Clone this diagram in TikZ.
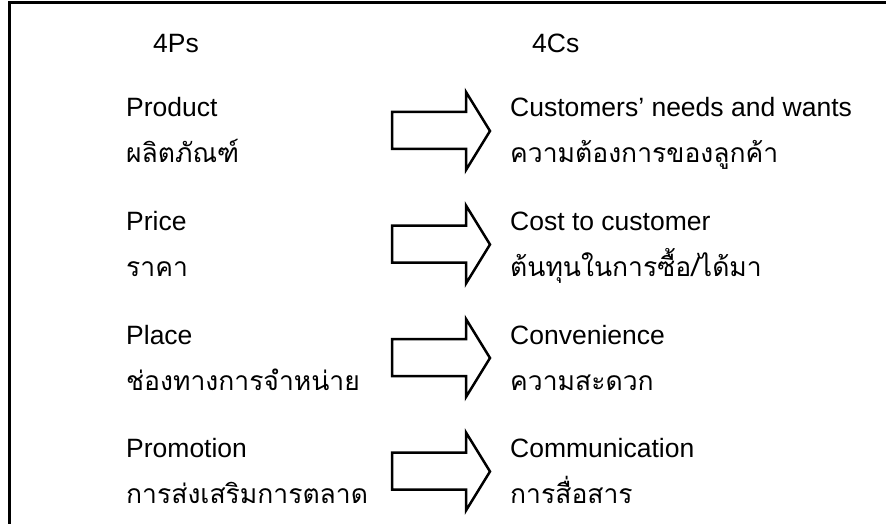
\documentclass[tikz,border=0pt]{standalone}
\usepackage{fontspec}
\setmainfont{Liberation Sans}
\newfontfamily\thaifont[Script=Thai]{Loma}
\begin{document}
\begin{tikzpicture}[x=1pt,y=-1pt,
  lat/.style={anchor=base west,inner sep=0pt,font=\fontsize{26.5}{30}\selectfont},
  thai/.style={anchor=base west,inner sep=0pt,font=\thaifont\fontsize{26.5}{30}\selectfont},
  blockarrow/.style={draw=black,line width=2.5pt,line join=miter,fill=white},
  frameline/.style={draw=black,line width=3pt}]
\useasboundingbox (0,0) rectangle (886,524);
\draw[frameline] (9,524) -- (9,3) -- (886,3);
\node[lat] (hp) at (153,53) {4Ps};
\node[lat] (hc) at (532,53) {4Cs};
\foreach \i/\pl/\pt/\cl/\ct in {
 0/Product/ผลิตภัณฑ์/Customers’ needs and wants/ความต้องการของลูกค้า,
 1/Price/ราคา/Cost to customer/{ต้นทุนในการซื้อ/ได้มา},
 2/Place/ช่องทางการจำหน่าย/Convenience/ความสะดวก,
 3/Promotion/การส่งเสริมการตลาด/Communication/การสื่อสาร}{
  \pgfmathsetmacro{\yy}{113.5*\i}
  \node[lat] (p\i) at (126,117+\yy) {\pl};
  \node[thai] (pt\i) at (126,163+\yy) {\pt};
  \node[lat] (c\i) at (510,117+\yy) {\cl};
  \node[thai] (ct\i) at (510,163+\yy) {\ct};
  \draw[blockarrow] (392,112+\yy) -- (466,112+\yy) -- (466,92+\yy) -- (490,131+\yy)
     -- (466,170+\yy) -- (466,149+\yy) -- (392,149+\yy) -- cycle;
}
\end{tikzpicture}
\end{document}
